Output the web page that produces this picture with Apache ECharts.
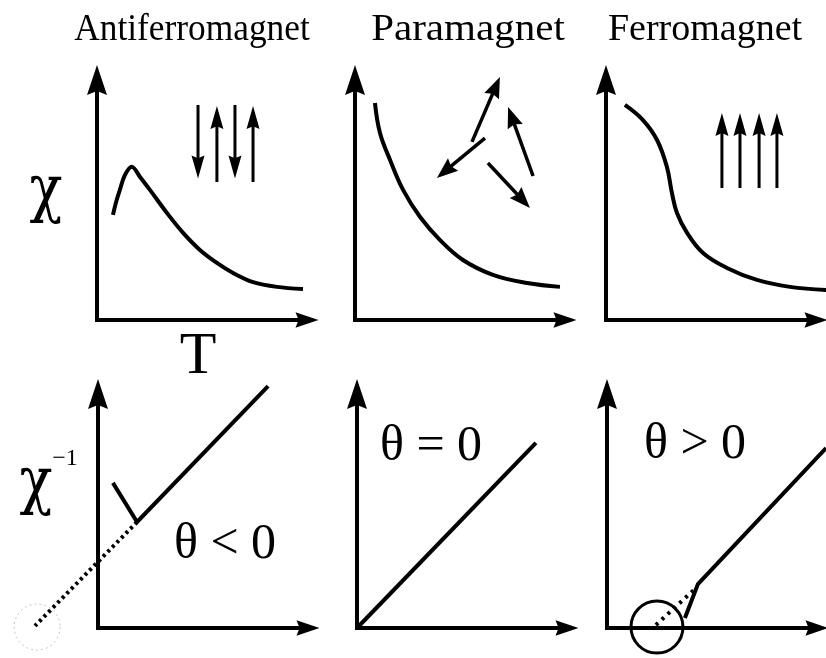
<!DOCTYPE html>
<html>
<head>
<meta charset="utf-8">
<script src="https://cdn.jsdelivr.net/npm/echarts@6/dist/echarts.min.js"></script>
<style>
  html, body { margin: 0; padding: 0; background: #fff; }
  #chart { width: 826px; height: 658px; }
</style>
</head>
<body>
<div id="chart"></div>
<script>
// ---- data (arbitrary units: T along x, χ or 1/χ along y, axes span 0..10) ----
const panelTitles = ['Antiferromagnet', 'Paramagnet', 'Ferromagnet'];
const thetaLabels = ['θ < 0', 'θ = 0', 'θ > 0'];

// χ(T)
const afmChi = [[0.76, 4.38], [0.92, 4.95], [1.10, 5.45], [1.33, 6.04], [1.67, 6.38], [2.05, 5.96],
  [2.52, 5.42], [3.33, 4.46], [4.10, 3.63], [4.90, 2.92], [5.71, 2.38], [6.48, 1.96],
  [7.43, 1.58], [8.57, 1.38], [9.81, 1.29]];
const paraChi = [[0.95, 9.04], [1.19, 7.79], [1.67, 6.67], [2.29, 5.42], [3.10, 4.29], [4.05, 3.33],
  [5.14, 2.50], [6.57, 1.88], [8.19, 1.54], [9.76, 1.38]];
const fmChi = [[0.90, 8.96], [1.76, 8.33], [2.43, 7.50], [2.90, 6.38], [3.14, 5.29], [3.38, 4.46],
  [3.86, 3.63], [4.62, 2.79], [5.76, 2.17], [7.19, 1.67], [8.76, 1.38], [10.48, 1.25]];

// spin arrows: [x0, y0, xTip, yTip]
const afmSpins = [[4.81, 8.96, 4.81, 5.90], [5.71, 5.75, 5.71, 8.92],
  [6.57, 8.96, 6.57, 5.90], [7.43, 5.75, 7.43, 8.92]];
const paraSpins = [[5.57, 7.42, 6.90, 10.13], [6.19, 7.58, 3.90, 5.92],
  [8.48, 6.00, 7.29, 8.88], [6.33, 6.54, 8.33, 4.67]];
const fmSpins = [[5.52, 5.50, 5.52, 8.63], [6.38, 5.50, 6.38, 8.63],
  [7.29, 5.50, 7.29, 8.63], [8.14, 5.50, 8.14, 8.63]];

// 1/χ(T)
const afmInverse = [[0.71, 6.20], [1.86, 4.53], [8.10, 10.34]];
const afmExtrap = [[1.86, 4.53], [-3.00, 0.09]];
const afmTheta = [[-2.90, 0.04]];
const paraInverse = [[0, 0], [8.52, 7.91]];
const fmInverse = [[3.71, 0.43], [4.33, 1.88], [10.43, 7.69]];
const fmExtrap = [[2.33, 0.13], [4.19, 1.67]];
const fmTheta = [[2.38, 0.04]];

// ---- layout ----
const grids = [
  { left: 97, top: 80, width: 210, height: 240 },
  { left: 355, top: 80, width: 210, height: 240 },
  { left: 606, top: 80, width: 210, height: 240 },
  { left: 98, top: 394, width: 210, height: 234 },
  { left: 357, top: 394, width: 210, height: 234 },
  { left: 607, top: 394, width: 210, height: 234 }
];

const HEAD = 'path://M10,0 L20,30 L10,26 L0,30 Z';
const SERIF = '"Liberation Serif", "Times New Roman", serif';

function axis(gridIndex, size) {
  return {
    type: 'value', gridIndex, min: 0, max: 10,
    axisLine: {
      show: true, onZero: false,
      symbol: ['none', HEAD], symbolSize: size,
      lineStyle: { color: '#000', width: 4, cap: 'square' }
    },
    axisTick: { show: false }, axisLabel: { show: false }, splitLine: { show: false }
  };
}

function arrowRenderer(headLen, headW, lw) {
  return function (params, api) {
    const p0 = api.coord([api.value(0), api.value(1)]);
    const p1 = api.coord([api.value(2), api.value(3)]);
    const dx = p1[0] - p0[0], dy = p1[1] - p0[1];
    const len = Math.hypot(dx, dy);
    const ux = dx / len, uy = dy / len, nx = -uy, ny = ux;
    const bx = p1[0] - ux * headLen, by = p1[1] - uy * headLen;
    return {
      type: 'group',
      children: [
        { type: 'line', shape: { x1: p0[0], y1: p0[1], x2: bx + ux * 3, y2: by + uy * 3 },
          style: { stroke: '#000', lineWidth: lw } },
        { type: 'polygon', shape: { points: [
            [p1[0], p1[1]],
            [bx + nx * headW / 2, by + ny * headW / 2],
            [bx + ux * headLen * 0.12, by + uy * headLen * 0.12],
            [bx - nx * headW / 2, by - ny * headW / 2]
          ] }, style: { fill: '#000' } }
      ]
    };
  };
}

function arrows(idx, data, headLen, headW, lw) {
  return { type: 'custom', xAxisIndex: idx, yAxisIndex: idx, data, clip: false,
    encode: { x: [0, 2], y: [1, 3] }, renderItem: arrowRenderer(headLen, headW, lw), silent: true };
}

// a polyline through all points of the series, free to run past the axis ends
function curve(idx, data, smooth, dash) {
  return {
    type: 'custom', xAxisIndex: idx, yAxisIndex: idx, data, clip: false, silent: true,
    encode: { x: 0, y: 1 },
    renderItem: function (params, api) {
      if (params.dataIndexInside !== 0) return null;
      const pts = [];
      for (let i = 0; i < params.dataInsideLength; i++) {
        pts.push(api.coord([api.value(0, i), api.value(1, i)]));
      }
      return {
        type: 'polyline',
        shape: { points: pts, smooth: smooth || 0 },
        style: { stroke: '#000', fill: 'none', lineWidth: 4, lineJoin: 'miter',
          lineCap: 'butt', lineDash: dash || null }
      };
    }
  };
}

function ring(idx, data, r, style) {
  return { type: 'custom', xAxisIndex: idx, yAxisIndex: idx, data, clip: false, silent: true,
    renderItem: function (params, api) {
      const c = api.coord([api.value(0), api.value(1)]);
      return { type: 'circle', shape: { cx: c[0], cy: c[1], r }, style: Object.assign({ fill: 'none' }, style) };
    } };
}

function label(text, x, y, size, extra, family) {
  return Object.assign({
    type: 'text', x, y,
    style: { text, font: size + 'px ' + (family || SERIF), fill: '#000',
      textAlign: 'center', textVerticalAlign: 'middle', align: 'center', verticalAlign: 'middle' }
  }, extra || {});
}

const xAxes = [], yAxes = [];
for (let i = 0; i < 6; i++) {
  xAxes.push(axis(i, [25, 23]));
  yAxes.push(axis(i, [20, 30]));
}

const option = {
  backgroundColor: '#fff',
  animation: false,
  grid: grids,
  xAxis: xAxes,
  yAxis: yAxes,
  series: [
    curve(0, afmChi, 0.35),
    arrows(0, afmSpins, 23, 13, 3),
    curve(1, paraChi, 0.4),
    arrows(1, paraSpins, 21, 16, 3.5),
    curve(2, fmChi, 0.4),
    arrows(2, fmSpins, 23, 13, 3),

    curve(3, afmInverse, 0),
    curve(3, afmExtrap, 0, [3, 3.5]),
    ring(3, afmTheta, 23, { stroke: '#c4c4c4', lineWidth: 1, lineDash: [2, 3] }),
    curve(4, paraInverse, 0),
    curve(5, fmInverse, 0),
    curve(5, fmExtrap, 0, [3, 5]),
    ring(5, fmTheta, 26, { stroke: '#000', lineWidth: 3 })
  ],
  graphic: [
    label(panelTitles[0], 192, 30, 38, { scaleX: 0.93 }),
    label(panelTitles[1], 468, 30, 38, { scaleX: 1.08 }),
    label(panelTitles[2], 705, 30, 38),
    label('χ', 46, 193, 64, { scaleX: 0.85 }, '"DejaVu Serif", serif'),
    label('T', 198, 357, 60),
    label('χ', 36, 485, 64, { scaleX: 0.85 }, '"DejaVu Serif", serif'),
    label('−1', 65, 459, 24),
    label(thetaLabels[0], 225, 545, 50),
    label(thetaLabels[1], 431, 447, 50),
    label(thetaLabels[2], 695, 445, 50)
  ]
};

echarts.init(document.getElementById('chart')).setOption(option);
</script>
</body>
</html>
